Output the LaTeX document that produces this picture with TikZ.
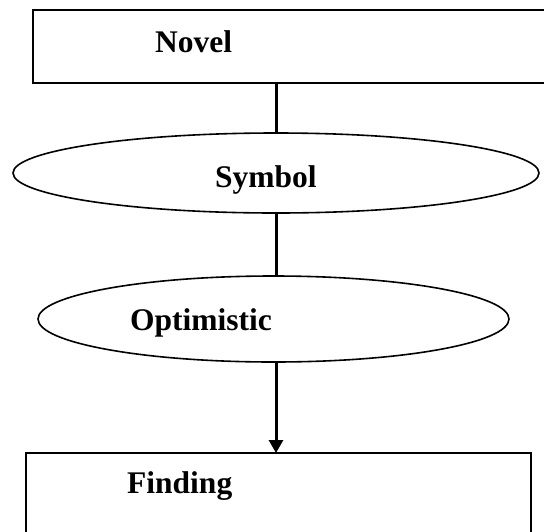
\documentclass[tikz,border=0pt]{standalone}
\usepackage{fontspec}
\setmainfont{Liberation Serif}
\usetikzlibrary{shapes.geometric,arrows.meta}
\begin{document}
\begin{tikzpicture}[x=1pt,y=-1pt,
  box/.style={draw=black,line width=1.6pt,rectangle,inner sep=0pt,outer sep=0pt},
  oval/.style={draw=black,line width=1.6pt,ellipse,inner sep=0pt,outer sep=0pt},
  lbl/.style={anchor=base west,inner sep=0pt,font=\fontsize{31.5}{36}\selectfont\bfseries},
  conn/.style={line width=3pt},
  arr/.style={line width=3pt,-{Triangle[length=13pt,width=14pt]}}]
\clip (0,0) rectangle (544,531);
\fill[white] (0,0) rectangle (544,531);
\node[box,minimum width=527pt,minimum height=73pt] (novel) at (296.5,46.5) {};
\node[oval,minimum width=526pt,minimum height=80pt] (symbol) at (276,173) {};
\node[oval,minimum width=471pt,minimum height=86pt] (optim) at (273.5,319) {};
\node[box,minimum width=505pt,minimum height=100pt] (finding) at (278.5,503) {};
\node[lbl] (tnovel) at (155,52) {Novel};
\node[lbl] (tsymbol) at (215,187) {Symbol};
\node[lbl] (toptim) at (130,330) {Optimistic};
\node[lbl] (tfinding) at (127,493) {Finding};
\draw[conn] (symbol.north) -- (symbol.north |- novel.south);
\draw[conn] (symbol.south) -- (symbol.south |- optim.north);
\draw[arr] (symbol.south |- optim.south) -- (symbol.south |- finding.north);
\end{tikzpicture}
\end{document}
